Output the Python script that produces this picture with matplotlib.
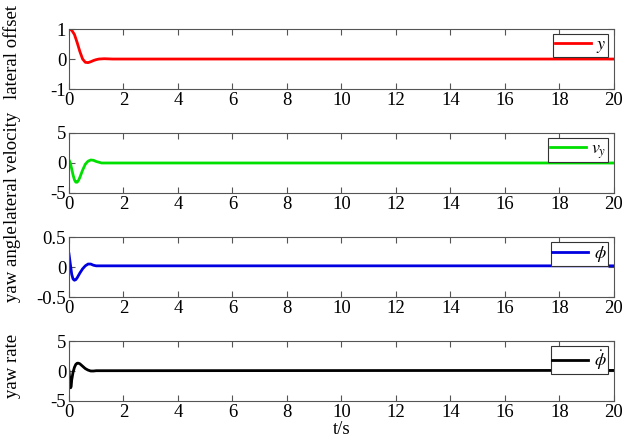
import matplotlib
matplotlib.use("Agg")
import matplotlib.pyplot as plt
from matplotlib.ticker import FormatStrFormatter

plt.rcParams['font.family'] = ['Liberation Serif', 'DejaVu Serif']
plt.rcParams['mathtext.fontset'] = 'stix'
plt.rcParams['axes.unicode_minus'] = False

# Data
t_y = [0, 0.1, 0.2, 0.3, 0.4, 0.5, 0.6, 0.7, 0.8, 0.9, 1.0, 1.1, 1.3, 1.6, 2.0, 20]
y = [1.0, 0.96, 0.82, 0.55, 0.25, 0.0, -0.11, -0.12, -0.09, -0.05, -0.02, 0.0, 0.01, 0.0, 0.0, 0.0]

t_vy = [0, 0.05, 0.1, 0.15, 0.2, 0.25, 0.3, 0.35, 0.4, 0.5, 0.6, 0.7, 0.8, 0.9, 1.0, 1.2, 1.5, 20]
vy = [0.5, 0.0, -1.0, -2.0, -2.8, -3.2, -3.2, -2.9, -2.4, -1.2, -0.2, 0.3, 0.5, 0.45, 0.25, 0.0, 0.0, 0.0]

t_phi = [0, 0.05, 0.1, 0.15, 0.2, 0.25, 0.3, 0.4, 0.5, 0.6, 0.7, 0.8, 0.9, 1.0, 1.2, 20]
phi = [0.22, 0.05, -0.12, -0.2, -0.22, -0.21, -0.18, -0.1, -0.03, 0.02, 0.05, 0.05, 0.03, 0.02, 0.02, 0.02]

t_r = [0, 0.03, 0.06, 0.08, 0.1, 0.15, 0.2, 0.25, 0.3, 0.35, 0.4, 0.5, 0.6, 0.7, 0.8, 0.9, 1.0, 20]
r = [0, -1.5, -2.8, -2.6, -1.5, -0.2, 0.6, 1.1, 1.3, 1.3, 1.2, 0.8, 0.4, 0.15, 0.0, 0.0, 0.05, 0.1]

series = [
    (t_y, y, '#ff0000', '$y$', 'lateral offset', [-1, 0, 1], 0.62),
    (t_vy, vy, '#00e000', '$v_y$', 'lateral velocity', [-5, 0, 5], 0.42),
    (t_phi, phi, '#0000e0', r'$\phi$', 'yaw angle', [-0.5, 0, 0.5], 0.56),
    (t_r, r, 'k', r'$\dot{\phi}$', 'yaw rate', [-5, 0, 5], 0.58),
]
bottoms = [0.8004, 0.5673, 0.334, 0.1009]
xticks = list(range(0, 21, 2))

fig = plt.figure(figsize=(6.41, 4.46), dpi=100)
for (tt, vv, col, lab, ylab, yt, ly), b in zip(series, bottoms):
    ax = fig.add_axes([0.1076, b, 0.850, 0.1345])
    ax.plot(tt, vv, color=col, lw=2.0, label=lab)
    ax.set_xlim(0, 20)
    ax.set_ylim(yt[0], yt[-1])
    ax.set_xticks(xticks)
    ax.set_yticks(yt)
    ax.yaxis.set_major_formatter(FormatStrFormatter('%g'))
    ax.tick_params(direction='in', top=True, right=True, labelsize=13.5,
                   color='#555555', length=4, pad=2)
    for s in ax.spines.values():
        s.set_color('#555555')
        s.set_linewidth(0.8)
    ax.set_ylabel(ylab, fontsize=13.5)
    ax.yaxis.set_label_coords(-0.088, ly)
    leg = ax.legend(loc='upper right', fontsize=13, fancybox=False,
                    framealpha=1, edgecolor='#333333', borderaxespad=0.3,
                    handlelength=2.0, borderpad=0.1, handletextpad=0.3)
    leg.get_frame().set_linewidth(0.8)

ax.set_xlabel('t/s', fontsize=13.5, labelpad=0)

plt.savefig('out.png', dpi=100)
